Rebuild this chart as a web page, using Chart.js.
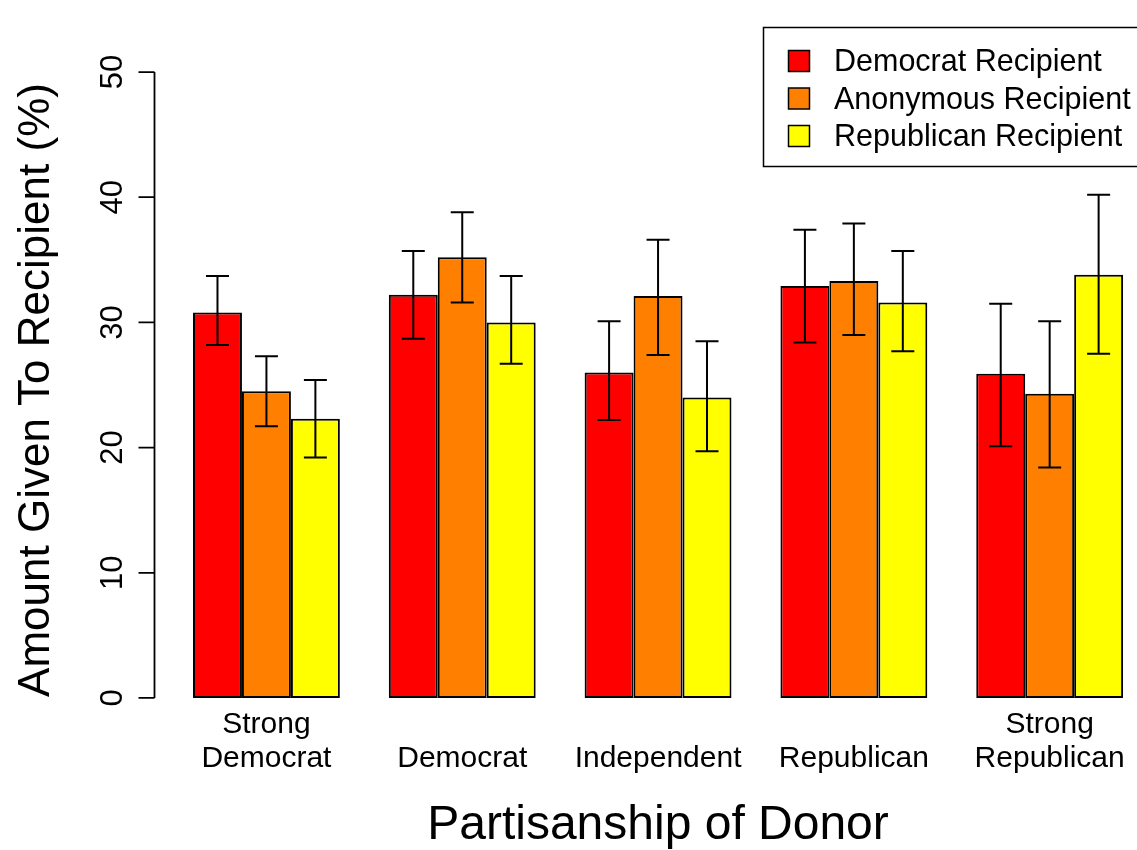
<!DOCTYPE html>
<html>
<head>
<meta charset="utf-8">
<title>Partisanship of Donor</title>
<script src="https://cdn.jsdelivr.net/npm/chart.js@4/dist/chart.umd.min.js"></script>
<style>
  html, body { margin: 0; padding: 0; background: #ffffff; }
  #wrap { width: 1137px; height: 850px; }
</style>
</head>
<body>
<div id="wrap"><canvas id="chart" width="1137" height="850"></canvas></div>
<script>
// Donor groups (multi-line labels), series names and colours
const categories = [["Strong", "Democrat"], ["Democrat"], ["Independent"], ["Republican"], ["Strong", "Republican"]];
const seriesNames = ["Democrat Recipient", "Anonymous Recipient", "Republican Recipient"];
const seriesColors = ["#FF0000", "#FF8000", "#FFFF00"];

// Mean amount given (%) with lower / upper error-bar ends
const democratRecipient = [30.8, 32.2, 26.0, 32.9, 25.9];
const democratLow       = [28.2, 28.7, 22.2, 28.4, 20.1];
const democratHigh      = [33.7, 35.7, 30.1, 37.4, 31.5];

const anonymousRecipient = [24.5, 35.2, 32.1, 33.3, 24.3];
const anonymousLow       = [21.7, 31.6, 27.4, 29.0, 18.4];
const anonymousHigh      = [27.3, 38.8, 36.6, 37.9, 30.1];

const republicanRecipient = [22.3, 30.0, 24.0, 31.6, 33.8];
const republicanLow       = [19.2, 26.7, 19.7, 27.7, 27.5];
const republicanHigh      = [25.4, 33.7, 28.5, 35.7, 40.2];

const yTicks = [0, 10, 20, 30, 40, 50];

const seriesValues = [democratRecipient, anonymousRecipient, republicanRecipient];
const seriesLow = [democratLow, anonymousLow, republicanLow];
const seriesHigh = [democratHigh, anonymousHigh, republicanHigh];

const FONT = '"Liberation Sans", Arial, Helvetica, sans-serif';

const datasets = seriesNames.map((name, s) => ({
  label: name,
  data: seriesValues[s].map((v, i) => ({ x: i, y: v })),
  backgroundColor: seriesColors[s],
  borderColor: "#000000",
  borderWidth: 2,
  borderSkipped: false,
  categoryPercentage: 0.75,
  barPercentage: 1.0
}));

// Error bars, base-graphics style axis, labels and boxed legend
const decorations = {
  id: "decorations",
  afterDatasetsDraw(chart) {
    const ctx = chart.ctx;
    const xs = chart.scales.x;
    const ys = chart.scales.y;
    const area = chart.chartArea;
    ctx.save();

    // error bars
    ctx.strokeStyle = "#000000";
    ctx.lineWidth = 2;
    const cap = 11.5;
    chart.data.datasets.forEach((ds, s) => {
      const meta = chart.getDatasetMeta(s);
      meta.data.forEach((bar, i) => {
        const x = bar.x;
        const yHi = ys.getPixelForValue(seriesHigh[s][i]);
        const yLo = ys.getPixelForValue(seriesLow[s][i]);
        ctx.beginPath();
        ctx.moveTo(x, yHi); ctx.lineTo(x, yLo);
        ctx.moveTo(x - cap, yHi); ctx.lineTo(x + cap, yHi);
        ctx.moveTo(x - cap, yLo); ctx.lineTo(x + cap, yLo);
        ctx.stroke();
      });
    });

    // y axis line and ticks
    const axX = area.left - 1.5;
    const y0 = ys.getPixelForValue(yTicks[0]);
    const y1 = ys.getPixelForValue(yTicks[yTicks.length - 1]);
    ctx.lineWidth = 1.8;
    ctx.beginPath();
    ctx.moveTo(axX, y0); ctx.lineTo(axX, y1);
    yTicks.forEach(t => {
      const py = ys.getPixelForValue(t);
      ctx.moveTo(axX, py); ctx.lineTo(axX - 16, py);
    });
    ctx.stroke();

    // rotated tick labels
    ctx.fillStyle = "#000000";
    ctx.font = "31px " + FONT;
    ctx.textAlign = "center";
    ctx.textBaseline = "alphabetic";
    yTicks.forEach(t => {
      const py = ys.getPixelForValue(t);
      ctx.save();
      ctx.translate(122, py);
      ctx.rotate(-Math.PI / 2);
      ctx.fillText(String(t), 0, 0);
      ctx.restore();
    });

    // category labels (bottom-aligned lines)
    ctx.font = "30px " + FONT;
    const baselines = [733, 767];
    categories.forEach((lines, i) => {
      const px = xs.getPixelForValue(i);
      const offset = baselines.length - lines.length;
      lines.forEach((line, k) => ctx.fillText(line, px, baselines[offset + k]));
    });

    // axis titles
    ctx.font = "48px " + FONT;
    ctx.fillText("Partisanship of Donor", (area.left + 1160) / 2, 839);
    ctx.save();
    ctx.font = "44px " + FONT;
    ctx.translate(49, (area.top + area.bottom) / 2 + 5);
    ctx.rotate(-Math.PI / 2);
    ctx.fillText("Amount Given To Recipient (%)", 0, 0);
    ctx.restore();

    // legend box
    ctx.lineWidth = 1.5;
    ctx.strokeRect(763.5, 27.5, 400, 139);
    ctx.font = "30.5px " + FONT;
    ctx.textAlign = "left";
    const rows = [61, 98.5, 136];
    seriesNames.forEach((name, s) => {
      const cy = rows[s];
      ctx.fillStyle = seriesColors[s];
      ctx.fillRect(788.5, cy - 10.5, 21, 21);
      ctx.strokeStyle = "#000000";
      ctx.strokeRect(788.5, cy - 10.5, 21, 21);
      ctx.fillStyle = "#000000";
      ctx.fillText(name, 834, cy + 10);
    });

    ctx.restore();
  }
};

new Chart(document.getElementById("chart"), {
  type: "bar",
  data: { datasets },
  options: {
    responsive: false,
    animation: false,
    layout: { padding: { left: 156, right: 0, top: 47, bottom: 127 } },
    scales: {
      x: {
        type: "linear",
        display: false,
        offset: false,
        grid: { offset: false },
        min: -0.564,
        max: 4.446,
        // one tick per donor group so bar widths follow the group spacing
        afterBuildTicks: (scale) => { scale.ticks = categories.map((c, i) => ({ value: i })); }
      },
      y: { type: "linear", display: false, min: -2, max: 52 }
    },
    plugins: {
      legend: { display: false },
      tooltip: { enabled: false }
    }
  },
  plugins: [decorations]
});
</script>
</body>
</html>
